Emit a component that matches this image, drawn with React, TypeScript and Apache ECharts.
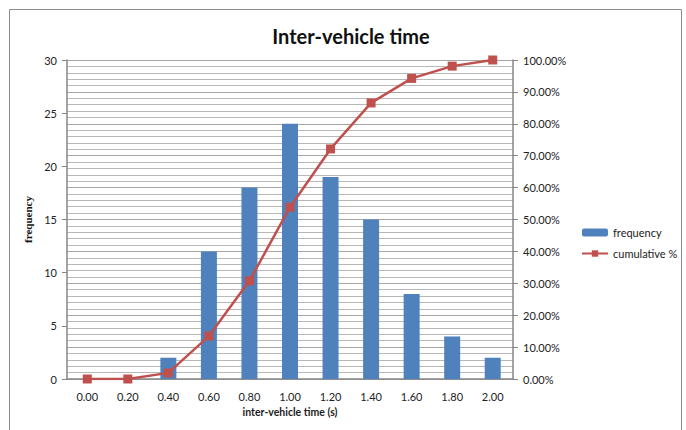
import React, { useEffect, useRef } from "react";
import * as echarts from "echarts";

const categories = ["0.00", "0.20", "0.40", "0.60", "0.80", "1.00", "1.20", "1.40", "1.60", "1.80", "2.00"];
const frequency = [0, 0, 2, 12, 18, 24, 19, 15, 8, 4, 2];
const cumulative = [0, 0, 0.0192, 0.1346, 0.3077, 0.5385, 0.7212, 0.8654, 0.9423, 0.9808, 1.0];

const FONT = "Lato, 'Open Sans', sans-serif";

export default function App() {
  const ref = useRef<HTMLDivElement>(null);
  useEffect(() => {
    const chart = echarts.init(ref.current!, null, { renderer: "svg" });
    chart.setOption({
      animation: false,
      backgroundColor: "#ffffff",
      textStyle: { fontFamily: FONT },
      title: {
        text: "Inter-vehicle time",
        left: 346,
        textAlign: "center",
        top: 21,
        textStyle: { fontSize: 20, fontWeight: "bold", color: "#111", fontFamily: FONT },
      },
      graphic: [
        {
          type: "rect",
          shape: { x: 9.5, y: 9.5, width: 672, height: 440 },
          style: { fill: "none", stroke: "#8c8c8c", lineWidth: 1 },
          silent: true,
        },
      ],
      legend: {
        orient: "vertical",
        left: 576,
        top: 222,
        itemWidth: 26,
        itemHeight: 8,
        itemGap: 10,
        textStyle: { fontSize: 11, color: "#222", fontFamily: FONT },
        data: ["frequency", "cumulative %"],
      },
      grid: { left: 67, right: 173, top: 60, bottom: 51, containLabel: false },
      xAxis: {
        type: "category",
        data: categories,
        name: "inter-vehicle time (s)",
        nameLocation: "middle",
        nameGap: 26,
        nameTextStyle: { fontSize: 10.5, fontWeight: "bold", color: "#222", fontFamily: FONT },
        axisLine: { lineStyle: { color: "#868686", width: 1.5 } },
        axisTick: { show: false },
        axisLabel: { fontSize: 11, color: "#222", margin: 12 },
      },
      yAxis: [
        {
          type: "value",
          min: 0,
          max: 30,
          interval: 5,
          name: "frequency",
          nameLocation: "middle",
          nameRotate: 90,
          nameGap: 28,
          nameTextStyle: { fontSize: 11, fontWeight: "bold", color: "#111", fontFamily: "'Liberation Serif', serif" },
          axisLine: { show: true, lineStyle: { color: "#868686", width: 1.5 } },
          axisTick: { show: true, length: 5, lineStyle: { color: "#868686" } },
          axisLabel: { fontSize: 11, color: "#222", margin: 10 },
          splitLine: { show: false },
        },
        {
          type: "value",
          min: 0,
          max: 1,
          interval: 0.1,
          position: "right",
          axisLine: { show: true, lineStyle: { color: "#868686", width: 1.5 } },
          axisTick: { show: true, length: 5, lineStyle: { color: "#868686" } },
          axisLabel: {
            fontSize: 11,
            color: "#222",
            margin: 10,
            formatter: (v: number) => (v * 100).toFixed(2) + "%",
          },
          splitLine: { show: true, lineStyle: { color: "#a6a6a6", width: 1 } },
          minorTick: { show: false, splitNumber: 5 },
          minorSplitLine: { show: true, lineStyle: { color: "#b8b8b8", width: 1 } },
        },
      ],
      series: [
        {
          name: "frequency",
          type: "bar",
          yAxisIndex: 0,
          data: frequency,
          barWidth: 16,
          itemStyle: { color: "#4f81bd" },
        },
        {
          name: "cumulative %",
          type: "line",
          yAxisIndex: 1,
          data: cumulative,
          symbol: "rect",
          symbolSize: 9,
          lineStyle: { color: "#c0504d", width: 2.5 },
          itemStyle: { color: "#c0504d" },
        },
      ],
    });
    return () => chart.dispose();
  }, []);
  return (
    <div
      ref={ref}
      style={{ position: "fixed", left: 0, top: 0, width: 686, height: 430 }}
    />
  );
}
